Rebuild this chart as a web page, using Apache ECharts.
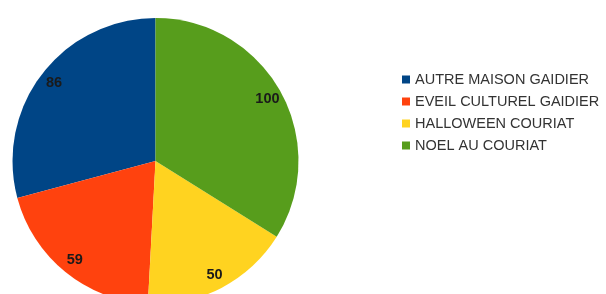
<!DOCTYPE html>
<html>
<head>
<meta charset="utf-8">
<script src="https://cdn.jsdelivr.net/npm/echarts@6/dist/echarts.min.js"></script>
<style>
  html, body { margin: 0; padding: 0; background: #fff; }
  #main { width: 606px; height: 294px; }
</style>
</head>
<body>
<div id="main"></div>
<script>
// données du graphique
const categories = ['AUTRE MAISON GAIDIER', 'EVEIL CULTUREL GAIDIER', 'HALLOWEEN COURIAT', 'NOEL AU COURIAT'];
const values = [86, 59, 50, 100];
const colors = ['#004586', '#ff420e', '#ffd320', '#579d1c'];

const pieData = categories.map((name, i) => ({ name: name, value: values[i] }));

const myChart = echarts.init(document.getElementById('main'));
const option = {
    animation: false,
    color: colors,
    legend: {
        orient: 'vertical',
        left: 397,
        top: 67,
        icon: 'rect',
        itemWidth: 8,
        itemHeight: 8,
        itemGap: 7,
        data: categories,
        textStyle: { fontFamily: 'Liberation Sans', fontSize: 14.5, color: '#333' }
    },
    series: [
        {
            type: 'pie',
            center: [155.5, 161],
            radius: [0, 143],
            clockwise: false,
            startAngle: 90,
            silent: true,
            label: { show: false },
            labelLine: { show: false },
            data: pieData
        },
        {
            // anneau transparent pour placer les étiquettes près du bord
            type: 'pie',
            center: [155.5, 161],
            radius: [107, 143],
            clockwise: false,
            startAngle: 90,
            silent: true,
            itemStyle: { color: 'rgba(0,0,0,0)' },
            label: {
                show: true,
                position: 'inside',
                formatter: '{c}',
                fontFamily: 'Liberation Sans',
                fontSize: 14.5,
                fontWeight: 'bold',
                color: '#1a1a1a'
            },
            labelLine: { show: false },
            data: pieData
        }
    ]
};
myChart.setOption(option);
</script>
</body>
</html>
